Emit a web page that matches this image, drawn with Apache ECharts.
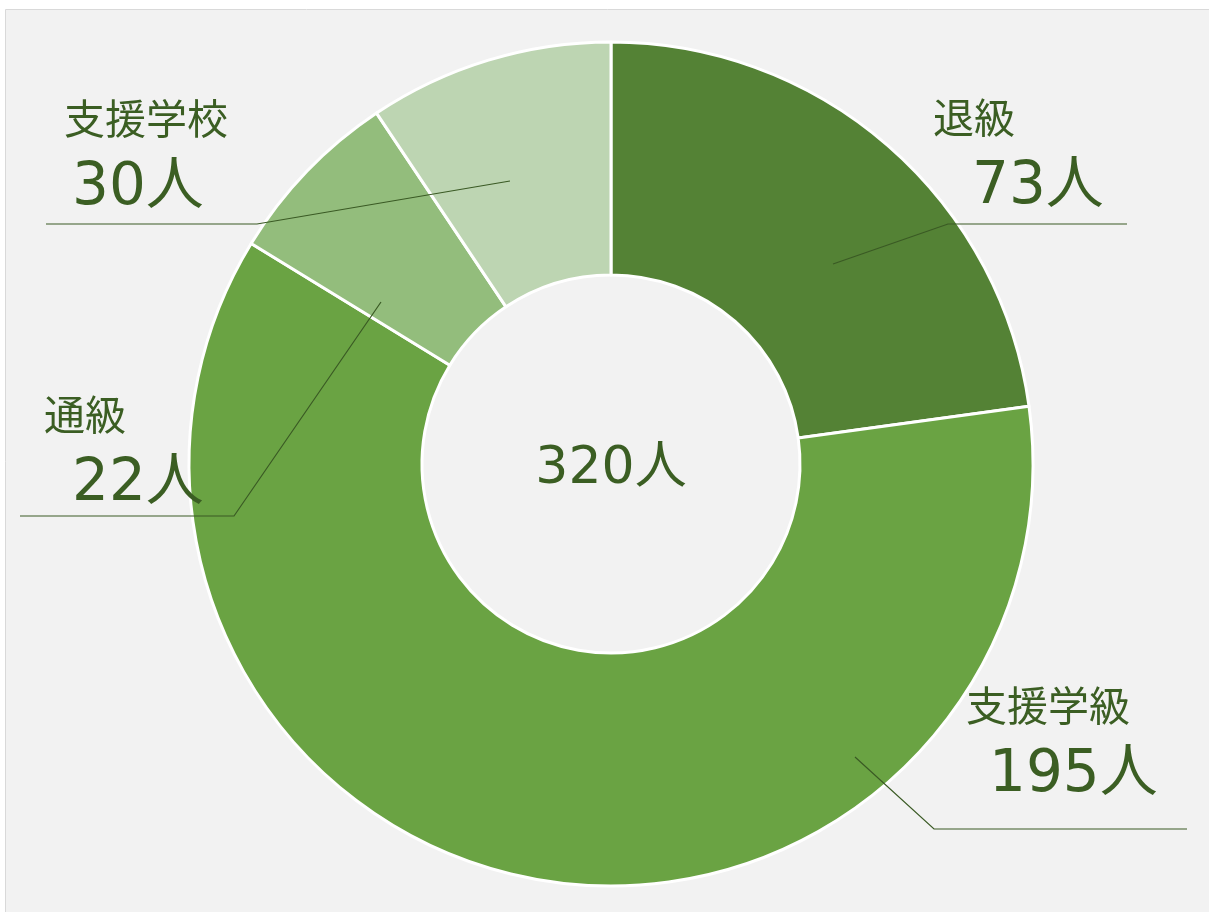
<!DOCTYPE html>
<html>
<head>
<meta charset="utf-8">
<title>donut</title>
<script src="https://cdn.jsdelivr.net/npm/echarts@6/dist/echarts.min.js"></script>
<style>
  html, body { margin: 0; padding: 0; overflow: hidden; background: #fff; }
</style>
</head>
<body>
<div id="main" style="width: 1209px; height: 912px;"></div>
<script type="text/javascript">

// data
var names = ['退級', '支援学級', '通級', '支援学校'];
var counts = [73, 195, 22, 30];
var colors = ['#548235', '#6aa343', '#93bd7c', '#bdd5b2'];
var unit = '人';

// label placement (page px): text block left/top, indent of the number line, leader line points
var labelPos = [
  { x: 933, y: 89,  indent: 39, line: [[833, 264], [948, 224], [1127, 224]] },
  { x: 966, y: 677, indent: 23, line: [[855, 757], [934, 829], [1187, 829]] },
  { x: 44,  y: 386, indent: 28, line: [[381, 302], [234, 516], [20, 516]] },
  { x: 64,  y: 90,  indent: 8,  line: [[510, 181], [257, 224], [46, 224]] }
];

var textColor = '#3b5e23';
var cjkFont = '"Noto Sans CJK JP", "Noto Sans", sans-serif';
var numFont = '"DejaVu Sans", "Noto Sans CJK JP", sans-serif';
var total = counts.reduce(function (a, b) { return a + b; }, 0);

var rich = {
  n: { fontSize: 41, lineHeight: 56, color: textColor, fontFamily: cjkFont }
};
labelPos.forEach(function (p, i) {
  rich['v' + i] = { fontSize: 58, lineHeight: 86, color: textColor, fontFamily: numFont, padding: [0, 0, 0, p.indent] };
});

var pieData = names.map(function (n, i) {
  return { name: n, value: counts[i], itemStyle: { color: colors[i] } };
});

var chartDom = document.getElementById('main');
var myChart = echarts.init(chartDom);
var option;

option = {
  animation: false,
  backgroundColor: '#ffffff',
  graphic: [
    {
      type: 'rect',
      silent: true,
      z: -1,
      shape: { x: 6, y: 10, width: 1300, height: 1000 },
      style: { fill: '#f2f2f2' }
    },
    {
      type: 'polyline',
      silent: true,
      z: -1,
      shape: { points: [[5.5, 1000], [5.5, 9.5], [1300, 9.5]] },
      style: { stroke: '#d9d9d9', lineWidth: 1, fill: null }
    },
    {
      type: 'text',
      silent: true,
      x: 611,
      y: 469,
      style: {
        text: total + unit,
        fontSize: 52,
        fontFamily: numFont,
        fill: textColor,
        align: 'center',
        verticalAlign: 'middle'
      }
    }
  ],
  series: [
    {
      // slices
      type: 'pie',
      z: 2,
      center: [611, 464],
      radius: [189, 422],
      startAngle: 90,
      clockwise: true,
      silent: true,
      itemStyle: { borderColor: '#ffffff', borderWidth: 3 },
      label: { show: false },
      labelLine: { show: false },
      data: pieData
    },
    {
      // same slices, transparent, only to carry labels and leader lines above the ring
      type: 'pie',
      z: 5,
      center: [611, 464],
      radius: [189, 422],
      startAngle: 90,
      clockwise: true,
      silent: true,
      avoidLabelOverlap: false,
      itemStyle: { color: 'rgba(0,0,0,0)', borderWidth: 0 },
      label: {
        show: true,
        position: 'outside',
        width: 320,
        overflow: 'none',
        formatter: function (p) {
          return '{n|' + p.name + '}\n{v' + p.dataIndex + '|' + p.value + unit + '}';
        },
        rich: rich
      },
      labelLine: {
        show: true,
        length: 20,
        length2: 20,
        lineStyle: { color: '#3a5a24', width: 1.2 }
      },
      labelLayout: function (params) {
        var p = labelPos[params.dataIndex];
        return {
          x: p.x,
          y: p.y,
          align: 'left',
          verticalAlign: 'top',
          labelLinePoints: p.line
        };
      },
      data: names.map(function (n, i) {
        return { name: n, value: counts[i] };
      })
    }
  ]
};

option && myChart.setOption(option);
</script>
</body>
</html>
